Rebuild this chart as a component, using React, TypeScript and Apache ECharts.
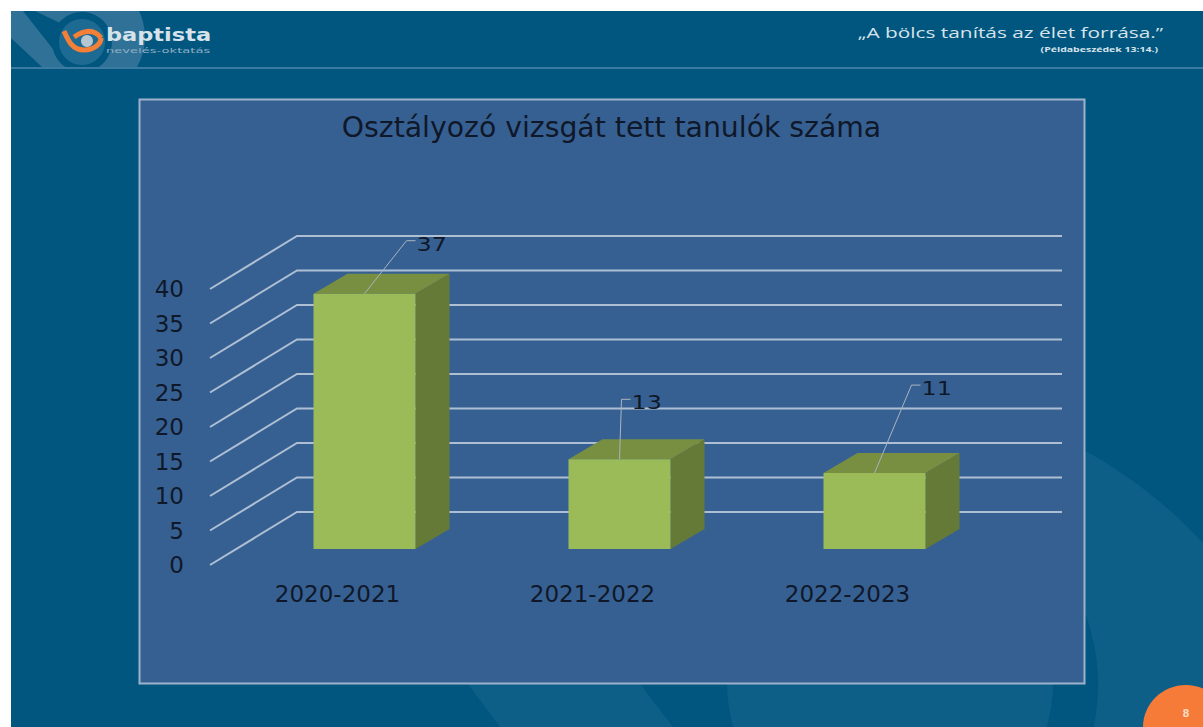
import React, { useEffect, useRef } from "react";
import * as echarts from "echarts";

const categories = ["2020-2021", "2021-2022", "2022-2023"];
const values = [37, 13, 11];
const yTicks = [0, 5, 10, 15, 20, 25, 30, 35, 40];
const titleText = "Osztályozó vizsgát tett tanulók száma";
const leaderBends = [[42, -53], [2, -60], [37, -88]];

const FONT = "'DejaVu Sans', sans-serif";
const INK = "#0f1829";
const WALL_DX = 87;
const WALL_DY = -53;
const BAR_OFFSET_X = 27;
const BAR_OFFSET_Y = -16;
const BAR_W = 102;
const DEPTH_X = 34;
const DEPTH_Y = -20;

const BG = "#00567f";
const LIGHT = "#0d5f87";
const LOGO_LIGHT = "#2f7197";
const ORANGE = "#f47f37";

function decor(): any[] {
  const disc = (cx: number, cy: number, r: number, fill: string) => ({
    type: "circle", silent: true, z: -10, shape: { cx, cy, r }, style: { fill },
  });
  const rect = (x: number, y: number, width: number, height: number, fill: string) => ({
    type: "rect", silent: true, z: -10, shape: { x, y, width, height }, style: { fill },
  });
  const poly = (points: number[][], fill: string) => ({
    type: "polygon", silent: true, z: -10, shape: { points }, style: { fill },
  });
  const swoosh = (x1: number, y1: number, cpx1: number, cpy1: number, cpx2: number, cpy2: number, x2: number, y2: number) => ({
    type: "bezierCurve", silent: true, z: -8,
    shape: { x1, y1, cpx1, cpy1, cpx2, cpy2, x2, y2 },
    style: { stroke: ORANGE, lineWidth: 5, fill: "none" },
  });
  return [
    rect(11, 11, 1192, 716, BG),
    disc(860, 860, 467, LIGHT),
    rect(11, 684, 1079, 43, BG),
    poly([[468, 684], [640, 684], [673, 727], [500, 727]], LIGHT),
    disc(890, 685, 208, BG),
    disc(890, 682, 163, LIGHT),
    // logo backdrop
    disc(85, 37, 60, LOGO_LIGHT),
    rect(11, 11, 90, 57, LOGO_LIGHT),
    poly([[11, 38], [43, 68], [11, 68]], BG),
    poly([[23, 11], [35, 11], [58, 22], [75, 30], [60, 58]], BG),
    disc(82, 42, 30, BG),
    disc(82, 42, 23, "#1d6a93"),
    // covers that keep the backdrop inside the header band
    rect(11, 69, 160, 30, BG),
    rect(0, 0, 1203, 11, "#ffffff"),
    rect(0, 0, 11, 727, "#ffffff"),
    swoosh(64, 31, 68, 40, 72, 50, 84, 50),
    swoosh(84, 50, 94, 50, 101, 44, 101, 38),
    swoosh(101, 38, 95, 30, 86, 29, 74, 37),
    { type: "circle", silent: true, z: -8, shape: { cx: 87, cy: 41, r: 6 }, style: { fill: "#b4c6d2" } },
    { type: "text", silent: true, z: -8, x: 106, y: 35, scaleX: 1.25, style: { text: "baptista", fill: "#d7e3ea", font: `bold 18px ${FONT}`, textVerticalAlign: "middle" } },
    { type: "text", silent: true, z: -8, x: 106, y: 50, scaleX: 1.87, style: { text: "nevelés-oktatás", fill: "#8fb0c4", font: `7px ${FONT}`, textVerticalAlign: "middle" } },
    { type: "text", silent: true, z: -8, x: 1163, y: 32, scaleX: 1.39, style: { text: "„A bölcs tanítás az élet forrása.”", fill: "#d7e3ea", font: `15px 'Open Sans', sans-serif`, textAlign: "right", textVerticalAlign: "middle" } },
    { type: "text", silent: true, z: -8, x: 1158, y: 49, scaleX: 1.5, style: { text: "(Példabeszédek 13:14.)", fill: "#d7e3ea", font: `bold 7px 'Open Sans', sans-serif`, textAlign: "right", textVerticalAlign: "middle" } },
    { type: "rect", silent: true, z: -8, shape: { x: 11, y: 67, width: 1192, height: 2 }, style: { fill: "#3b7ba1" } },
    // chart panel
    { type: "rect", silent: true, z: -7, shape: { x: 139.5, y: 99.5, width: 945, height: 584 }, style: { fill: "#376092", stroke: "#9db2cb", lineWidth: 2 } },
    // slide-number badge
    { type: "ellipse", silent: true, z: -7, shape: { cx: 1186, cy: 727, rx: 43, ry: 42 }, style: { fill: "#f67b38" } },
    { type: "text", silent: true, z: -6, x: 1186, y: 713, style: { text: "8", fill: "#fbd9c0", font: `bold 10px ${FONT}`, textAlign: "center", textVerticalAlign: "middle" } },
  ];
}

export default function App() {
  const ref = useRef<HTMLDivElement>(null);
  useEffect(() => {
    const chart = echarts.init(ref.current!, null, { renderer: "svg" });
    const renderWalls = (params: any, api: any) => {
      const v = api.value(0);
      const x0 = params.coordSys.x;
      const x1 = x0 + params.coordSys.width;
      const y = api.coord([0, v])[1];
      return {
        type: "polyline",
        shape: { points: [[x0, y], [x0 + WALL_DX, y + WALL_DY], [x1 + WALL_DX, y + WALL_DY]] },
        style: { stroke: "#aebfd4", lineWidth: 2, fill: "none" },
      };
    };
    const renderBar = (params: any, api: any) => {
      const idx = api.value(0);
      const val = api.value(1);
      const [cx, ytop0] = api.coord([idx, val]);
      const ybase0 = api.coord([idx, 0])[1];
      const xl = cx - BAR_W / 2 + BAR_OFFSET_X;
      const xr = xl + BAR_W;
      const yt = ytop0 + BAR_OFFSET_Y;
      const yb = ybase0 + BAR_OFFSET_Y;
      const xm = (xl + xr) / 2;
      const bend = leaderBends[params.dataIndex];
      const bx = xm + bend[0];
      const by = yt + bend[1];
      return {
        type: "group",
        children: [
          { type: "polygon", shape: { points: [[xr, yt], [xr + DEPTH_X, yt + DEPTH_Y], [xr + DEPTH_X, yb + DEPTH_Y], [xr, yb]] }, style: { fill: "#667a38" } },
          { type: "polygon", shape: { points: [[xl, yt], [xl + DEPTH_X, yt + DEPTH_Y], [xr + DEPTH_X, yt + DEPTH_Y], [xr, yt]] }, style: { fill: "#788f41" } },
          { type: "rect", shape: { x: xl, y: yt, width: BAR_W, height: yb - yt }, style: { fill: "#9bbb59" } },
          { type: "polyline", shape: { points: [[xm, yt], [bx, by], [bx + 9, by]] }, style: { stroke: "#a9b4bf", lineWidth: 1, fill: "none" } },
          { type: "text", x: bx + 10, y: by + 3, scaleX: 1.19, style: { text: String(val), fill: INK, font: `20px ${FONT}`, textAlign: "left", textVerticalAlign: "middle" } },
        ],
      };
    };
    chart.setOption({
      animation: false,
      backgroundColor: "#ffffff",
      title: {
        text: titleText,
        left: 606.5,
        top: 108,
        textAlign: "center",
        textStyle: { color: INK, fontFamily: FONT, fontWeight: "normal", fontSize: 28.3 },
      },
      graphic: decor(),
      grid: { left: 210, top: 289, width: 765, height: 276 },
      xAxis: {
        type: "category",
        data: categories,
        axisLine: { show: false },
        axisTick: { show: false },
        axisLabel: { color: INK, fontFamily: FONT, fontSize: 23, margin: 17 },
      },
      yAxis: {
        type: "value",
        min: 0,
        max: 40,
        interval: 5,
        splitLine: { show: false },
        axisLine: { show: false },
        axisTick: { show: false },
        axisLabel: { color: INK, fontFamily: FONT, fontSize: 23, margin: 26, padding: [3, 0, 0, 0] },
      },
      series: [
        {
          type: "custom",
          renderItem: renderWalls,
          data: yTicks.map((t) => [t]),
          encode: { y: 0 },
          silent: true,
          z: 1,
        },
        {
          type: "custom",
          renderItem: renderBar,
          data: values.map((v, i) => [i, v]),
          encode: { x: 0, y: 1 },
          silent: true,
          z: 2,
        },
      ],
    });
    return () => chart.dispose();
  }, []);
  return <div ref={ref} style={{ position: "absolute", left: 0, top: 0, width: 1203, height: 727 }} />;
}
